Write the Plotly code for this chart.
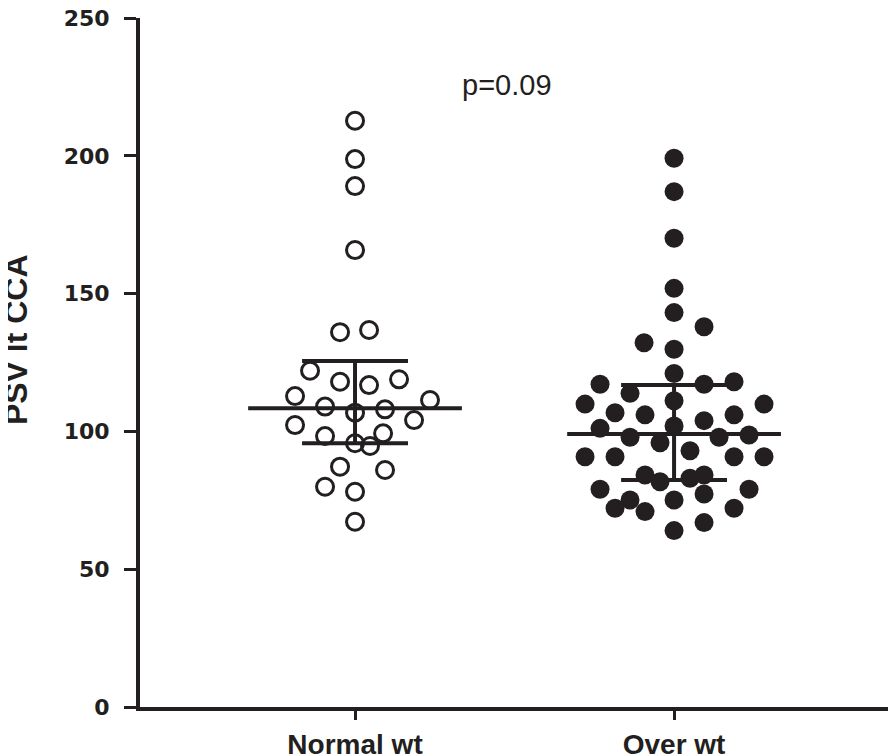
import plotly.graph_objects as go

categories = ["Normal wt", "Over wt"]

normal_vals = [212.7, 198.8, 189.0, 165.8, 136.0, 136.8, 122.0, 118.0, 116.8, 118.9,
               112.8, 111.4, 109.0, 106.8, 108.0, 102.3, 104.1, 98.3, 99.3, 95.7,
               94.7, 87.2, 86.0, 79.9, 78.1, 67.2]
normal_jitter = [0, 0, 0, 0, -0.047, 0.044, -0.141, -0.047, 0.044, 0.138,
                 -0.188, 0.235, -0.094, 0, 0.094, -0.188, 0.185, -0.094, 0.088, 0,
                 0.047, -0.047, 0.094, -0.094, 0, 0]

over_vals = [199.1, 187.0, 170.1, 151.9, 143.1, 138.0, 132.2, 129.8, 121.0, 117.1,
             117.1, 118.0, 113.8, 111.1, 109.9, 109.9, 106.8, 106.0, 103.9, 106.0,
             101.1, 102.0, 97.9, 95.9, 97.9, 98.7, 93.0, 90.8, 90.8, 90.8,
             90.8, 84.2, 81.7, 83.0, 84.2, 79.0, 79.0, 75.1, 75.1, 77.3,
             72.1, 70.9, 72.1, 66.9, 64.0]
over_jitter = [0, 0, 0, 0, 0, 0.094, -0.094, 0, 0, -0.232,
               0.094, 0.188, -0.138, 0, -0.279, 0.282, -0.185, -0.091, 0.094, 0.188,
               -0.232, 0, -0.138, -0.044, 0.141, 0.235, 0.050, -0.279, -0.185, 0.188,
               0.282, -0.091, -0.044, 0.050, 0.094, -0.232, 0.235, -0.138, 0, 0.094,
               -0.185, -0.091, 0.188, 0.094, 0]

medians = [108.4, 99.1]
q1 = [95.7, 82.4]
q3 = [125.5, 116.8]

y_ticks = [0, 50, 100, 150, 200, 250]
y_title = "PSV lt CCA"
p_text = "p=0.09"

INK = "#231f20"

fig = go.Figure()

fig.add_trace(go.Scatter(
    x=[0 + j for j in normal_jitter], y=normal_vals, mode="markers",
    marker=dict(symbol="circle-open", size=17, color=INK, line=dict(width=3, color=INK)),
    showlegend=False, hoverinfo="y"))
fig.add_trace(go.Scatter(
    x=[1 + j for j in over_jitter], y=over_vals, mode="markers",
    marker=dict(symbol="circle", size=19, color=INK, line=dict(width=0)),
    showlegend=False, hoverinfo="y"))

half_med = 0.335
half_cap = 0.166
for i in range(len(categories)):
    xs = [i - half_med, i + half_med, None,
          i - half_cap, i + half_cap, None,
          i - half_cap, i + half_cap, None,
          i, i]
    ys = [medians[i], medians[i], None,
          q3[i], q3[i], None,
          q1[i], q1[i], None,
          q1[i], q3[i]]
    fig.add_trace(go.Scatter(x=xs, y=ys, mode="lines",
                             line=dict(color=INK, width=4),
                             showlegend=False, hoverinfo="skip"))

fig.add_annotation(x=0.476, y=225.7, xref="x", yref="y", text=p_text, showarrow=False,
                   font=dict(family="Liberation Sans", size=29, color=INK))

# y-axis title (placed as rotated text to match the reference position)
fig.add_annotation(x=-0.166, y=0.533, xref="paper", yref="paper", text=y_title,
                   textangle=-90, showarrow=False, xanchor="center", yanchor="middle",
                   font=dict(family="Liberation Sans", size=32, color=INK, weight="bold"))

fig.update_layout(
    width=896, height=756,
    margin=dict(l=132, r=13, t=10, b=57, autoexpand=False),
    paper_bgcolor="white", plot_bgcolor="white",
    xaxis=dict(
        range=[-0.674, 1.680], tickmode="array", tickvals=[0, 1], ticktext=categories,
        showline=True, linecolor=INK, linewidth=4, ticks="outside", ticklen=9,
        tickwidth=3, tickcolor=INK, showgrid=False, zeroline=False, automargin=False,
        ticklabeloverflow="allow",
        tickfont=dict(family="Liberation Sans", size=28, color=INK, weight="bold"),
    ),
    yaxis=dict(
        range=[0, 250], tickmode="array", tickvals=y_ticks,
        showline=True, linecolor=INK, linewidth=4, ticks="outside", ticklen=12,
        tickwidth=3, tickcolor=INK, showgrid=False, zeroline=False, automargin=False,
        ticklabeloverflow="allow",
        tickfont=dict(family="DejaVu Sans", size=22, color=INK, weight="bold"),
        ticklabelstandoff=10,
    ),
)

fig.write_html("out.html")
